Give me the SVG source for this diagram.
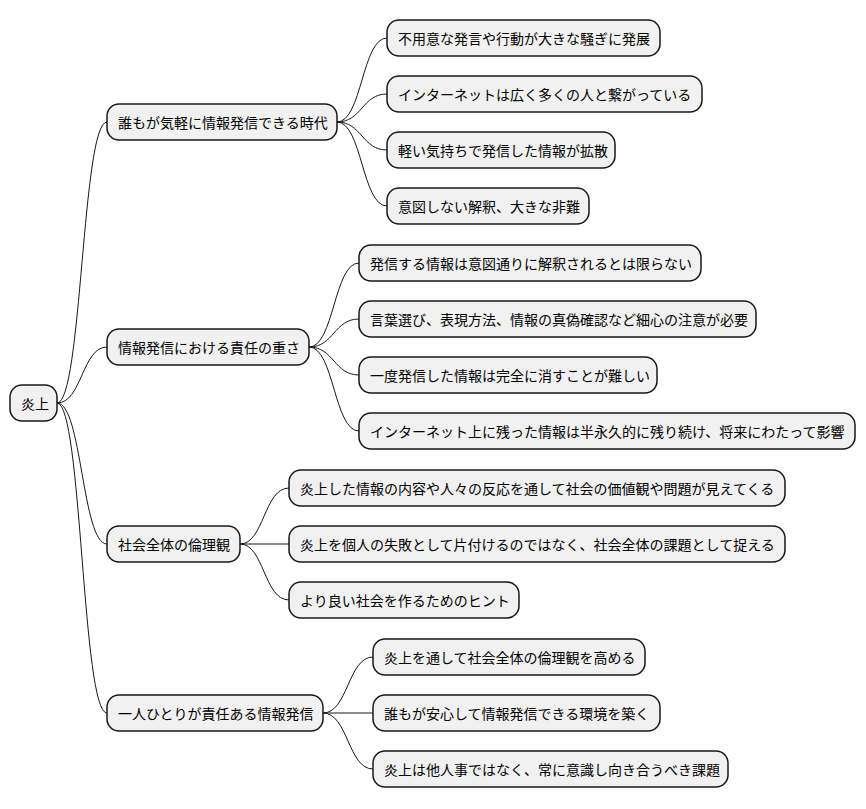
<svg xmlns="http://www.w3.org/2000/svg" width="866" height="809" viewBox="0 0 866 809">
<style>
.n rect{fill:#f1f1f1;stroke:#181818;stroke-width:1.5}
.n text{font-family:"Noto Sans CJK JP","Noto Sans",sans-serif;font-size:14px;fill:#000;dominant-baseline:central}
#edges path{fill:none;stroke:#181818;stroke-width:1}
</style>
<rect width="866" height="809" fill="#fff"/>
<g id="edges">
<path d="M57 403 C82 403 82 122 107 122"/>
<path d="M57 403 C82 403 82 347 107 347"/>
<path d="M57 403 C82 403 82 544 107 544"/>
<path d="M57 403 C82 403 82 713 107 713"/>
<path d="M337 122 C362 122 362 38 387 38"/>
<path d="M337 122 C362 122 362 94 387 94"/>
<path d="M337 122 C362 122 362 150 387 150"/>
<path d="M337 122 C362 122 362 206 387 206"/>
<path d="M309 347 C334 347 334 263 359 263"/>
<path d="M309 347 C334 347 334 319 359 319"/>
<path d="M309 347 C334 347 334 375 359 375"/>
<path d="M309 347 C334 347 334 431 359 431"/>
<path d="M240 544 C264 544 264 488 289 488"/>
<path d="M240 544 L289 544"/>
<path d="M240 544 C264 544 264 600 289 600"/>
<path d="M323 713 C348 713 348 657 373 657"/>
<path d="M323 713 L373 713"/>
<path d="M323 713 C348 713 348 769 373 769"/>
</g>
<g id="root" class="n"><rect x="10" y="385" width="47" height="36" rx="12"/><text x="21" y="403">炎上</text></g>
<g id="a" class="n"><rect x="107" y="104" width="230" height="36" rx="12"/><text x="118" y="122">誰もが気軽に情報発信できる時代</text></g>
<g id="a1" class="n"><rect x="387" y="20" width="273" height="36" rx="12"/><text x="398" y="38">不用意な発言や行動が大きな騒ぎに発展</text></g>
<g id="a2" class="n"><rect x="387" y="76" width="315" height="36" rx="12"/><text x="398" y="94">インターネットは広く多くの人と繋がっている</text></g>
<g id="a3" class="n"><rect x="387" y="132" width="228" height="36" rx="12"/><text x="398" y="150">軽い気持ちで発信した情報が拡散</text></g>
<g id="a4" class="n"><rect x="387" y="188" width="202" height="36" rx="12"/><text x="398" y="206">意図しない解釈、大きな非難</text></g>
<g id="b" class="n"><rect x="107" y="329" width="202" height="36" rx="12"/><text x="118" y="347">情報発信における責任の重さ</text></g>
<g id="b1" class="n"><rect x="359" y="245" width="342" height="36" rx="12"/><text x="370" y="263">発信する情報は意図通りに解釈されるとは限らない</text></g>
<g id="b2" class="n"><rect x="359" y="301" width="397" height="36" rx="12"/><text x="370" y="319">言葉選び、表現方法、情報の真偽確認など細心の注意が必要</text></g>
<g id="b3" class="n"><rect x="359" y="357" width="298" height="36" rx="12"/><text x="370" y="375">一度発信した情報は完全に消すことが難しい</text></g>
<g id="b4" class="n"><rect x="359" y="413" width="496" height="36" rx="12"/><text x="370" y="431">インターネット上に残った情報は半永久的に残り続け、将来にわたって影響</text></g>
<g id="c" class="n"><rect x="107" y="526" width="133" height="36" rx="12"/><text x="118" y="544">社会全体の倫理観</text></g>
<g id="c1" class="n"><rect x="289" y="470" width="496" height="36" rx="12"/><text x="300" y="488">炎上した情報の内容や人々の反応を通して社会の価値観や問題が見えてくる</text></g>
<g id="c2" class="n"><rect x="289" y="526" width="496" height="36" rx="12"/><text x="300" y="544">炎上を個人の失敗として片付けるのではなく、社会全体の課題として捉える</text></g>
<g id="c3" class="n"><rect x="289" y="582" width="230" height="36" rx="12"/><text x="300" y="600">より良い社会を作るためのヒント</text></g>
<g id="d" class="n"><rect x="107" y="695" width="216" height="36" rx="12"/><text x="118" y="713">一人ひとりが責任ある情報発信</text></g>
<g id="d1" class="n"><rect x="373" y="639" width="272" height="36" rx="12"/><text x="384" y="657">炎上を通して社会全体の倫理観を高める</text></g>
<g id="d2" class="n"><rect x="373" y="695" width="287" height="36" rx="12"/><text x="384" y="713">誰もが安心して情報発信できる環境を築く</text></g>
<g id="d3" class="n"><rect x="373" y="751" width="355" height="36" rx="12"/><text x="384" y="769">炎上は他人事ではなく、常に意識し向き合うべき課題</text></g>
</svg>
